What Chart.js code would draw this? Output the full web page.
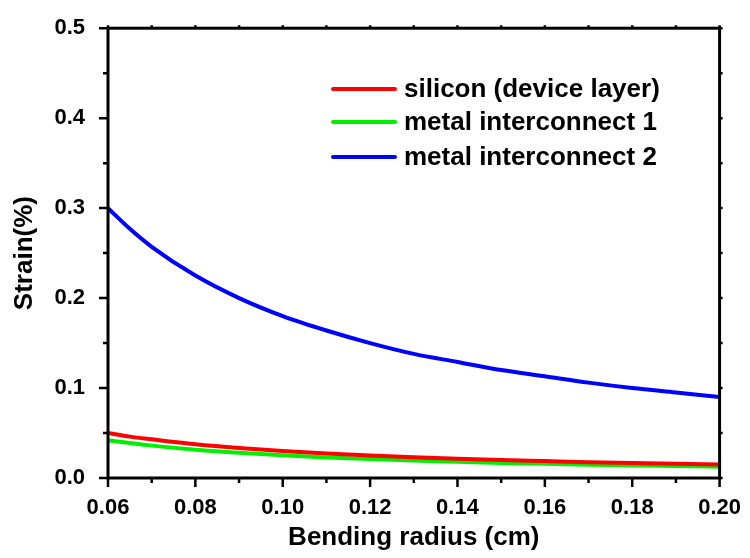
<!DOCTYPE html>
<html>
<head>
<meta charset="utf-8">
<script src="https://cdn.jsdelivr.net/npm/chart.js@4/dist/chart.umd.min.js"></script>
<style>
  html, body { margin: 0; padding: 0; background: #fff; }
  #wrap { width: 750px; height: 558px; }
</style>
</head>
<body>
<div id="wrap"><canvas id="strainChart" width="750" height="558"></canvas></div>
<script>
/* DATA */
const radius = [0.06, 0.065, 0.07, 0.08, 0.09, 0.10, 0.11, 0.12, 0.13, 0.14, 0.15, 0.16, 0.17, 0.18, 0.19, 0.20];

const siliconStrain = [0.050, 0.046, 0.043, 0.0375, 0.0333, 0.030, 0.0273, 0.025, 0.0231, 0.0214, 0.020, 0.0188, 0.0176, 0.0167, 0.0158, 0.015];
const metal1Strain = [0.042, 0.0388, 0.036, 0.0315, 0.028, 0.0252, 0.0229, 0.021, 0.0194, 0.018, 0.0168, 0.0158, 0.0148, 0.014, 0.0133, 0.0126];
const metal2Strain = [0.300, 0.277, 0.257, 0.225, 0.200, 0.180, 0.164, 0.150, 0.138, 0.129, 0.120, 0.113, 0.106, 0.100, 0.095, 0.090];

const seriesNames = ["silicon (device layer)", "metal interconnect 1", "metal interconnect 2"];
const seriesColors = ["#ff0000", "#00ee00", "#0000ff"];

const xTicks = [0.06, 0.08, 0.10, 0.12, 0.14, 0.16, 0.18, 0.20];
const yTicks = [0.0, 0.1, 0.2, 0.3, 0.4, 0.5];

/* HELPERS */
const FONT = "'Liberation Sans', Arial, sans-serif";
const pts = ys => radius.map((r, i) => ({ x: r, y: ys[i] }));

/* FRAME + TICKS + LEGEND */
const framePlugin = {
  id: "frame",
  afterDatasetsDraw(chart) {
    const { ctx, chartArea: a, scales } = chart;
    const xs = scales.x, ys = scales.y;
    ctx.save();
    ctx.strokeStyle = "#000";
    ctx.lineWidth = 3;
    ctx.strokeRect(a.left, a.top, a.right - a.left, a.bottom - a.top);

    ctx.lineWidth = 2.5;
    ctx.beginPath();
    // x ticks: majors + minors
    for (let v = 0.06; v <= 0.2001; v += 0.01) {
      const px = xs.getPixelForValue(v);
      const major = Math.round(v * 100) % 2 === 0;
      ctx.moveTo(px, a.bottom);
      ctx.lineTo(px, a.bottom + (major ? 9 : 5));
      ctx.moveTo(px, a.top);
      ctx.lineTo(px, a.top - 3);
    }
    // y ticks
    for (let v = 0; v <= 0.5001; v += 0.05) {
      const py = ys.getPixelForValue(v);
      const major = Math.round(v * 100) % 10 === 0;
      ctx.moveTo(a.left, py);
      ctx.lineTo(a.left - (major ? 9 : 5), py);
      ctx.moveTo(a.right, py);
      ctx.lineTo(a.right + 3, py);
    }
    ctx.stroke();

    // legend
    const rowsY = [89, 122, 157];
    ctx.font = "bold 26px " + FONT;
    ctx.textBaseline = "middle";
    ctx.fillStyle = "#000";
    chart.data.datasets.forEach((ds, i) => {
      ctx.strokeStyle = ds.borderColor;
      ctx.lineWidth = 4;
      ctx.lineCap = "round";
      ctx.beginPath();
      ctx.moveTo(333, rowsY[i]);
      ctx.lineTo(395, rowsY[i]);
      ctx.stroke();
      ctx.fillText(ds.label, 404, rowsY[i] + 1);
    });
    ctx.restore();
  }
};

/* CHART */
new Chart(document.getElementById("strainChart"), {
  type: "line",
  data: {
    datasets: [siliconStrain, metal1Strain, metal2Strain].map((d, i) => ({
      label: seriesNames[i],
      data: pts(d),
      borderColor: seriesColors[i],
      borderWidth: 4,
      pointRadius: 0,
      cubicInterpolationMode: "monotone",
      fill: false
    }))
  },
  options: {
    responsive: false,
    animation: false,
    layout: { padding: { top: 23, right: 30, left: 0, bottom: 0 } },
    plugins: { legend: { display: false }, tooltip: { enabled: false } },
    scales: {
      x: {
        type: "linear",
        min: 0.06,
        max: 0.20,
        afterBuildTicks: s => { s.ticks = xTicks.map(v => ({ value: v })); },
        afterFit: s => { s.height = 80; },
        grid: { display: false },
        border: { display: false },
        ticks: {
          padding: 9,
          color: "#000",
          font: { family: FONT, size: 22, weight: "bold" },
          callback: v => v.toFixed(2)
        },
        title: {
          display: true,
          text: "Bending radius (cm)",
          color: "#000",
          font: { family: FONT, size: 26, weight: "bold" },
          padding: { top: 0, bottom: 5 }
        }
      },
      y: {
        min: 0,
        max: 0.5,
        afterBuildTicks: s => { s.ticks = yTicks.map(v => ({ value: v })); },
        afterFit: s => { s.width = 108; },
        grid: { display: false },
        border: { display: false },
        ticks: {
          padding: 15,
          color: "#000",
          font: { family: FONT, size: 22, weight: "bold" },
          callback: v => v.toFixed(1)
        },
        title: {
          display: true,
          text: "Strain(%)",
          color: "#000",
          font: { family: FONT, size: 26, weight: "bold" },
          padding: { top: 9, bottom: 0 }
        }
      }
    }
  },
  plugins: [framePlugin]
});
</script>
</body>
</html>
